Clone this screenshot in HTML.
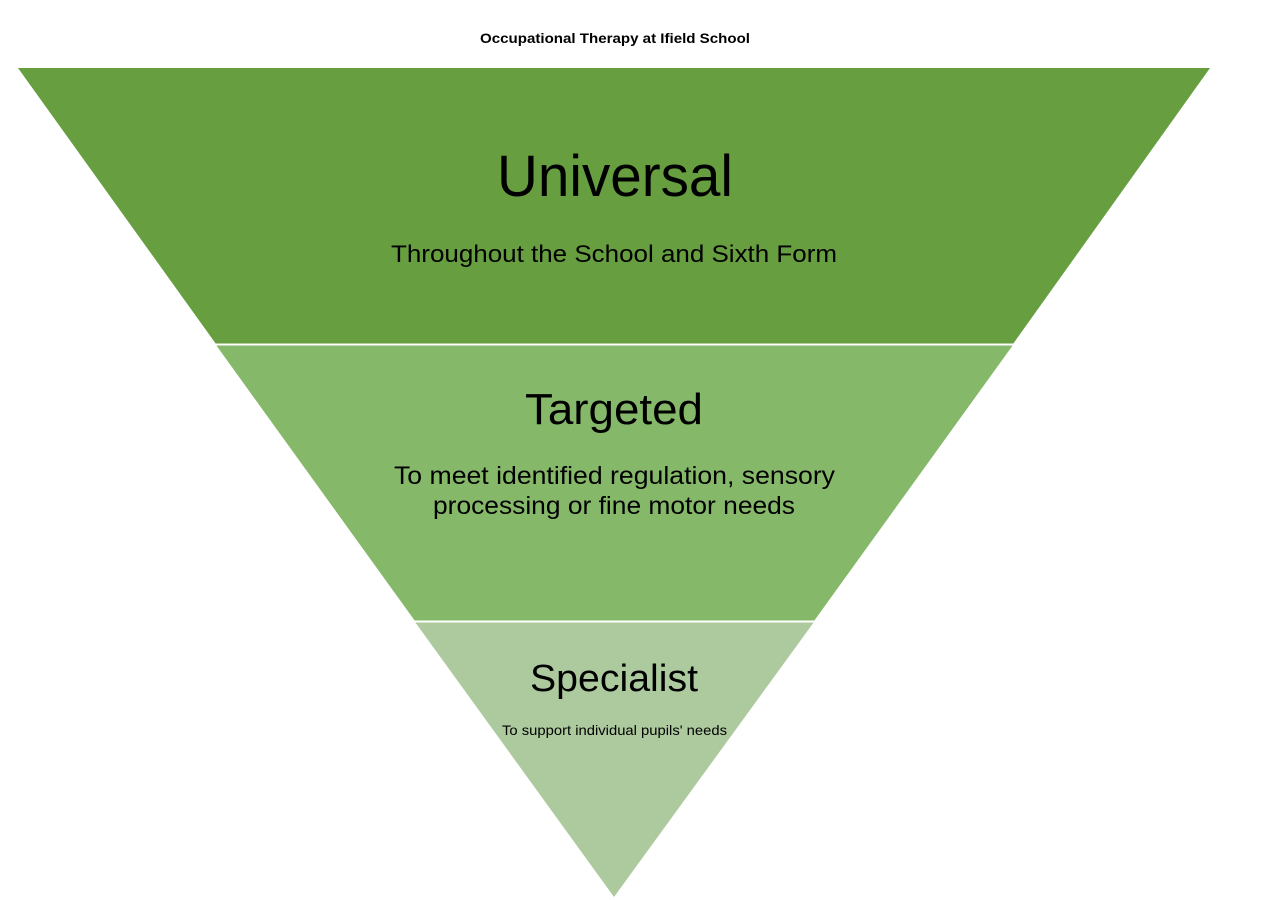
<!DOCTYPE html>
<html><head><style>html,body{margin:0;padding:0;background:#fff;}svg{display:block}</style></head>
<body>
<svg width="1283" height="900" viewBox="0 0 1283 900" xmlns="http://www.w3.org/2000/svg" font-family="'Liberation Sans', sans-serif" fill="#000">
<polygon points="18,68 1210,68 1013,344 216,344" fill="#669e40"/>
<polygon points="216,345 1013,345 814,621 415,621" fill="#86b86a"/>
<polygon points="415,622 814,622 614,897" fill="#adca9e"/>
<line x1="210" y1="344.5" x2="1020" y2="344.5" stroke="#fff" stroke-width="2"/>
<line x1="410" y1="621.5" x2="820" y2="621.5" stroke="#fff" stroke-width="2"/>
<text x="480" y="43" font-size="14" font-weight="bold" textLength="270" lengthAdjust="spacingAndGlyphs">Occupational Therapy at Ifield School</text>
<text x="497" y="196" font-size="58" textLength="236" lengthAdjust="spacingAndGlyphs">Universal</text>
<text x="391" y="262" font-size="24" textLength="446" lengthAdjust="spacingAndGlyphs">Throughout the School and Sixth Form</text>
<text x="525" y="424" font-size="44" textLength="178" lengthAdjust="spacingAndGlyphs">Targeted</text>
<text x="394" y="484" font-size="25" textLength="441" lengthAdjust="spacingAndGlyphs">To meet identified regulation, sensory</text>
<text x="433" y="514" font-size="25" textLength="362" lengthAdjust="spacingAndGlyphs">processing or fine motor needs</text>
<text x="530" y="691" font-size="38" textLength="168" lengthAdjust="spacingAndGlyphs">Specialist</text>
<text x="502" y="735" font-size="14" textLength="225" lengthAdjust="spacingAndGlyphs">To support individual pupils' needs</text>
</svg>
</body></html>
